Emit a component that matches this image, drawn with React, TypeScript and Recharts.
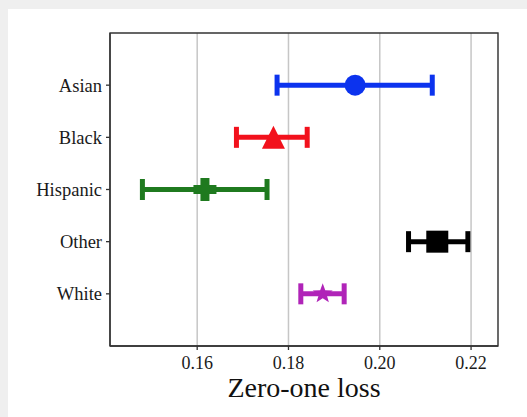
import React from 'react';
import { ScatterChart, Scatter, XAxis, YAxis, CartesianGrid, ErrorBar, ReferenceArea } from 'recharts';

const categories = ['Asian', 'Black', 'Hispanic', 'Other', 'White'];
const centerValues = [0.1946, 0.1767, 0.1617, 0.2126, 0.1875];
const lowValues = [0.1775, 0.1686, 0.1480, 0.2063, 0.1827];
const highValues = [0.2115, 0.1841, 0.1753, 0.2193, 0.1922];
const xTicks = [0.16, 0.18, 0.2, 0.22];
const yTicks = [0, 1, 2, 3, 4];
const xDomain = [0.1409, 0.2259];
const yDomain = [-1, 5];

const seriesStyle = [
  { color: '#0c33ee', marker: 'circle' },
  { color: '#f2111c', marker: 'triangle' },
  { color: '#1f7a1f', marker: 'plus' },
  { color: '#000000', marker: 'square' },
  { color: '#b024b8', marker: 'star' },
];

const FONT = '"Liberation Serif", "DejaVu Serif", serif';

function makeShape(marker: string, color: string) {
  return (props: any) => {
    const { cx, cy } = props;
    if (cx == null || cy == null) return <g />;
    if (marker === 'circle') return <circle cx={cx} cy={cy} r={10.5} fill={color} />;
    if (marker === 'square') return <rect x={cx - 11} y={cy - 11} width={22} height={22} fill={color} />;
    if (marker === 'triangle') {
      const h = 11.5;
      return <polygon points={`${cx},${cy - h} ${cx - 11.5},${cy + h} ${cx + 11.5},${cy + h}`} fill={color} />;
    }
    if (marker === 'plus') {
      const a = 11.5;
      const t = 4.5;
      const d = `M${cx - t},${cy - a} H${cx + t} V${cy - t} H${cx + a} V${cy + t} H${cx + t} V${cy + a} H${cx - t} V${cy + t} H${cx - a} V${cy - t} H${cx - t} Z`;
      return <path d={d} fill={color} />;
    }
    if (marker === 'star') {
      const pts: string[] = [];
      for (let i = 0; i < 10; i++) {
        const r = i % 2 === 0 ? 10.5 : 4.3;
        const ang = -Math.PI / 2 + (i * Math.PI) / 5;
        pts.push(`${cx + r * Math.cos(ang)},${cy + r * Math.sin(ang)}`);
      }
      return <polygon points={pts.join(' ')} fill={color} />;
    }
    return <g />;
  };
}

export default function App() {
  const tables = categories.map((name, i) => [
    {
      name,
      x: centerValues[i],
      y: i,
      err: [centerValues[i] - lowValues[i], highValues[i] - centerValues[i]],
    },
  ]);

  return (
    <div style={{ position: 'absolute', left: 0, top: 0, width: 527, height: 417, background: '#efefef' }}>
      <div style={{ position: 'absolute', left: 8, top: 9, width: 519, height: 408, background: '#ffffff' }} />
      <div style={{ position: 'absolute', left: 0, top: 0 }}>
        <ScatterChart width={527} height={417} margin={{ top: 33, right: 29, bottom: 0, left: 0 }}>
          <CartesianGrid horizontal={false} vertical stroke="#c6c6c6" strokeWidth={1.5} />
          <XAxis
            type="number"
            dataKey="x"
            domain={xDomain}
            ticks={xTicks}
            allowDataOverflow
            tickFormatter={(v: number) => v.toFixed(2)}
            height={71}
            tickSize={4}
            tickMargin={6}
            stroke="#333333"
            strokeWidth={1.3}
            tick={{ fontSize: 18, fill: '#1a1a1a', fontFamily: FONT }}
            label={{
              value: 'Zero-one loss',
              position: 'insideBottom',
              offset: 20,
              fontSize: 28,
              fill: '#111111',
              fontFamily: FONT,
            }}
          />
          <YAxis
            type="number"
            dataKey="y"
            domain={yDomain}
            ticks={yTicks}
            reversed
            allowDataOverflow
            width={110}
            tickSize={4}
            tickMargin={4}
            tickFormatter={(v: number) => categories[v] ?? ''}
            stroke="#333333"
            strokeWidth={1.3}
            tick={{ fontSize: 18.5, fill: '#1a1a1a', fontFamily: FONT }}
          />
          <ReferenceArea
            x1={xDomain[0]}
            x2={xDomain[1]}
            y1={yDomain[0]}
            y2={yDomain[1]}
            fill="none"
            fillOpacity={0}
            stroke="#333333"
            strokeWidth={1.3}
            ifOverflow="visible"
          />
          {tables.map((data, i) => (
            <Scatter
              key={categories[i]}
              name={categories[i]}
              data={data}
              fill={seriesStyle[i].color}
              isAnimationActive={false}
              shape={makeShape(seriesStyle[i].marker, seriesStyle[i].color)}
            >
              <ErrorBar
                dataKey="err"
                direction="x"
                width={10.5}
                strokeWidth={5}
                stroke={seriesStyle[i].color}
                isAnimationActive={false}
              />
            </Scatter>
          ))}
        </ScatterChart>
      </div>
    </div>
  );
}
